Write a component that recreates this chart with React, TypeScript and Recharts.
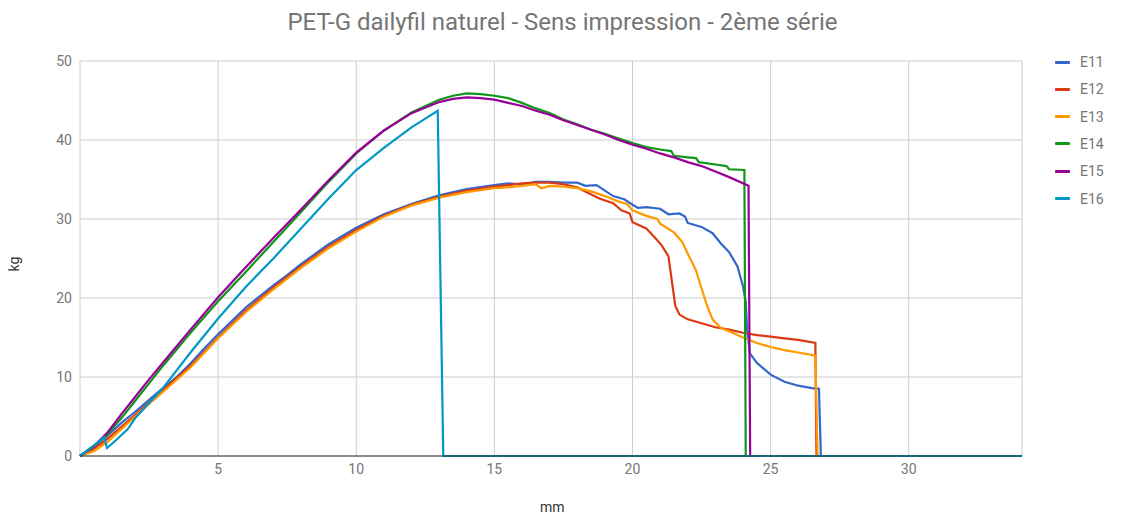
import { CartesianGrid, Line, LineChart, XAxis, YAxis } from 'recharts';

const X_MAX = 34.1;

const e11X = [0, 0.5, 1, 1.5, 2, 2.5, 3, 3.5, 4, 4.5, 5, 6, 7, 7.5, 8, 9, 10, 11, 12, 13, 14, 15, 15.5, 16, 16.5, 17, 17.5, 18, 18.3, 18.7, 19, 19.3, 19.7, 20, 20.2, 20.5, 21, 21.3, 21.7, 21.9, 22, 22.5, 22.9, 23.2, 23.5, 23.8, 24, 24.1, 24.15, 24.25, 24.5, 25, 25.5, 26, 26.5, 26.75, 26.82, X_MAX];
const e11Y = [0, 1.2, 2.6, 4.2, 5.6, 7.1, 8.6, 10.0, 11.7, 13.6, 15.4, 18.8, 21.6, 22.9, 24.3, 26.8, 28.9, 30.6, 31.9, 33.0, 33.8, 34.3, 34.5, 34.4, 34.7, 34.7, 34.6, 34.6, 34.2, 34.3, 33.6, 32.9, 32.5, 31.8, 31.4, 31.5, 31.3, 30.6, 30.7, 30.3, 29.5, 29.0, 28.2, 26.9, 25.8, 24.0, 21.5, 19.5, 16.0, 13.0, 11.8, 10.3, 9.4, 8.9, 8.6, 8.5, 0, 0];

const e12X = [0, 0.5, 1, 1.5, 2, 2.5, 3, 4, 5, 6, 7, 8, 9, 10, 11, 12, 13, 14, 15, 16, 16.5, 17, 17.5, 18, 18.4, 18.8, 19.3, 19.6, 19.9, 20, 20.5, 20.8, 21.05, 21.3, 21.45, 21.55, 21.7, 22, 22.5, 23, 23.5, 24, 24.5, 25, 25.5, 26, 26.62, 26.66, X_MAX];
const e12Y = [0, 0.9, 2.2, 3.7, 5.2, 6.8, 8.3, 11.4, 15.0, 18.4, 21.3, 24.0, 26.5, 28.6, 30.4, 31.8, 32.8, 33.6, 34.1, 34.5, 34.6, 34.6, 34.4, 34.0, 33.3, 32.6, 32.0, 31.1, 30.7, 29.6, 28.8, 27.7, 26.7, 25.3, 21.5, 19.0, 17.9, 17.3, 16.8, 16.3, 16.0, 15.6, 15.3, 15.1, 14.9, 14.7, 14.3, 0, 0];

const e13X = [0, 0.5, 1, 1.5, 2, 2.5, 3, 4, 5, 6, 7, 8, 9, 10, 11, 12, 13, 14, 15, 15.5, 16, 16.5, 16.7, 17, 17.5, 18, 18.5, 19, 19.5, 19.8, 20, 20.5, 20.9, 21, 21.5, 21.8, 22, 22.3, 22.5, 22.7, 22.9, 23.2, 23.5, 24, 24.5, 25, 25.5, 26, 26.62, 26.7, X_MAX];
const e13Y = [0, 0.6, 1.8, 3.4, 5.0, 6.6, 8.1, 11.2, 14.9, 18.2, 21.1, 23.8, 26.3, 28.4, 30.3, 31.7, 32.7, 33.4, 33.9, 34.0, 34.2, 34.4, 33.9, 34.2, 34.1, 33.9, 33.5, 32.9, 32.2, 31.9, 31.1, 30.4, 30.0, 29.4, 28.3, 27.1, 25.6, 23.5, 21.2, 19.0, 17.3, 16.2, 15.8, 15.0, 14.3, 13.8, 13.4, 13.1, 12.7, 0, 0];

const e14X = [0, 0.5, 1, 1.5, 2, 2.5, 3, 4, 5, 6, 7, 8, 9, 10, 11, 12, 13, 13.5, 14, 14.5, 15, 15.5, 16, 16.5, 17, 17.5, 18, 18.5, 19, 19.5, 20, 20.5, 21, 21.4, 21.5, 22, 22.3, 22.4, 23, 23.4, 23.5, 24.05, 24.1, X_MAX];
const e14Y = [0, 1.3, 2.8, 4.8, 7.0, 9.2, 11.4, 15.6, 19.6, 23.3, 27.1, 30.9, 34.7, 38.3, 41.2, 43.5, 45.1, 45.6, 45.9, 45.8, 45.6, 45.3, 44.7, 44.0, 43.4, 42.6, 42.0, 41.3, 40.8, 40.2, 39.6, 39.1, 38.8, 38.6, 38.0, 37.8, 37.7, 37.2, 36.9, 36.7, 36.3, 36.2, 0, 0];

const e15X = [0, 0.5, 1, 1.5, 2, 2.5, 3, 4, 5, 6, 7, 8, 9, 10, 11, 12, 13, 13.5, 14, 14.5, 15, 15.5, 16, 16.5, 17, 17.5, 18, 18.5, 19, 19.5, 20, 20.5, 21, 21.5, 22, 22.5, 23, 23.5, 24.2, 24.26, X_MAX];
const e15Y = [0, 1.2, 3.0, 5.3, 7.5, 9.7, 11.8, 16.0, 20.1, 23.9, 27.6, 31.2, 34.9, 38.4, 41.2, 43.4, 44.8, 45.2, 45.4, 45.3, 45.1, 44.7, 44.3, 43.7, 43.2, 42.5, 41.9, 41.3, 40.7, 40.0, 39.4, 38.9, 38.3, 37.8, 37.2, 36.7, 36.0, 35.3, 34.2, 0, 0];

const e16X = [0, 0.5, 0.87, 0.98, 1.3, 1.73, 2, 2.5, 3, 4, 5, 6, 7, 8, 9, 10, 11, 12, 12.5, 12.95, 13.15, X_MAX];
const e16Y = [0, 1.3, 2.4, 1.0, 2.0, 3.4, 4.8, 6.7, 8.6, 13.1, 17.4, 21.4, 25.0, 28.8, 32.6, 36.2, 39.0, 41.6, 42.7, 43.7, 0, 0];

const seriesNames = ['E11', 'E12', 'E13', 'E14', 'E15', 'E16'];
const seriesColors = ['#3366cc', '#dc3912', '#ff9900', '#109618', '#990099', '#0099c6'];
const xValues = [e11X, e12X, e13X, e14X, e15X, e16X];
const yValues = [e11Y, e12Y, e13Y, e14Y, e15Y, e16Y];

const xTicks = [5, 10, 15, 20, 25, 30];
const yTicks = [0, 10, 20, 30, 40, 50];

const font = 'Roboto, sans-serif';

const series = seriesNames.map((name, i) => ({
  name,
  color: seriesColors[i],
  data: xValues[i].map((x, j) => ({ x, y: yValues[i][j] })),
}));

export default function App() {
  return (
    <div style={{ position: 'absolute', left: 0, top: 0, width: 1125, height: 523, background: '#fff', fontFamily: font }}>
      <div style={{ position: 'absolute', left: 0, top: 8, width: 1125, textAlign: 'center', fontSize: 24, color: '#757575' }}>
        PET-G dailyfil naturel - Sens impression - 2ème série
      </div>
      <LineChart width={1125} height={523} margin={{ top: 61, right: 103, bottom: 37, left: 20 }}>
        <CartesianGrid stroke="#cccccc" vertical horizontal />
        <XAxis
          type="number"
          dataKey="x"
          domain={[0, X_MAX]}
          ticks={xTicks}
          height={30}
          tickLine={false}
          axisLine={{ stroke: '#333', strokeWidth: 1 }}
          tick={{ fill: '#757575', fontSize: 14, fontFamily: font }}
          allowDuplicatedCategory={false}
        />
        <YAxis
          type="number"
          dataKey="y"
          domain={[0, 50]}
          ticks={yTicks}
          width={60}
          tickLine={false}
          axisLine={false}
          tick={{ fill: '#757575', fontSize: 14, fontFamily: font }}
        />
        {series.map((s) => (
          <Line
            key={s.name}
            data={s.data}
            dataKey="y"
            name={s.name}
            type="linear"
            stroke={s.color}
            strokeWidth={2.2}
            dot={false}
            isAnimationActive={false}
          />
        ))}
      </LineChart>
      <div style={{ position: 'absolute', left: 540, top: 499, fontSize: 14, color: '#333' }}>mm</div>
      <div
        style={{
          position: 'absolute',
          left: 7,
          top: 256,
          fontSize: 14,
          color: '#333',
          transform: 'rotate(-90deg)',
        }}
      >
        kg
      </div>
      {series.map((s, i) => (
        <div
          key={s.name}
          style={{ position: 'absolute', left: 1055, top: 52 + i * 27.3, height: 20, display: 'flex', alignItems: 'center' }}
        >
          <div style={{ width: 15, height: 3, background: s.color, borderRadius: 1 }} />
          <span style={{ marginLeft: 10, fontSize: 14, color: '#757575' }}>{s.name}</span>
        </div>
      ))}
    </div>
  );
}
